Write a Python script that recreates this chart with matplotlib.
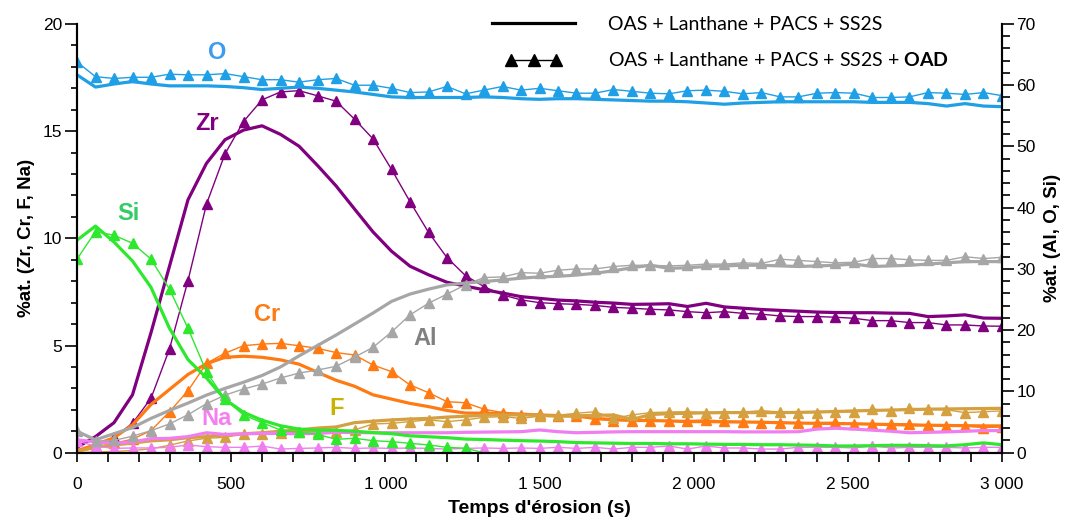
import numpy as np
import matplotlib.pyplot as plt
from matplotlib.lines import Line2D
from matplotlib.legend_handler import HandlerLine2D
from matplotlib.ticker import MultipleLocator, FuncFormatter

plt.rcParams['font.family'] = ['Liberation Sans', 'DejaVu Sans']
plt.rcParams['mathtext.fontset'] = 'custom'
plt.rcParams['mathtext.rm'] = 'Lato'
plt.rcParams['mathtext.bf'] = 'Lato:bold'

# temps d'érosion (s), un point toutes les 60 s
t = np.arange(0, 3001, 60)

# --- axe gauche : Zr, Cr, F, Na (%at.) ---
zr = [0.25, 0.75, 1.4, 2.7, 5.6, 8.7, 11.8, 13.5, 14.6, 15.05, 15.25, 14.85, 14.3, 13.4, 12.45,
      11.37, 10.3, 9.4, 8.7, 8.3, 7.95, 7.77, 7.6, 7.45, 7.28, 7.2, 7.12, 7.08, 7.02, 6.98,
      6.92, 6.93, 6.95, 6.82, 6.97, 6.8, 6.74, 6.68, 6.64, 6.6, 6.56, 6.54, 6.53, 6.53, 6.51,
      6.5, 6.35, 6.38, 6.43, 6.28, 6.27]
zr_oad = [0.1, 0.28, 0.72, 1.37, 2.54, 4.84, 8.03, 11.6, 13.94, 15.45, 16.46, 16.83, 16.89, 16.65,
          16.4, 15.56, 14.64, 13.22, 11.71, 10.28, 9.1, 8.26, 7.75, 7.36, 7.13, 7.0, 6.95, 6.92,
          6.87, 6.78, 6.74, 6.69, 6.66, 6.58, 6.53, 6.58, 6.5, 6.46, 6.38, 6.35, 6.35, 6.32, 6.27,
          6.16, 6.16, 6.07, 6.07, 5.96, 5.96, 5.91, 5.9]
cr = [0.09, 0.37, 0.7, 1.3, 2.25, 2.95, 3.65, 4.15, 4.45, 4.5, 4.45, 4.33, 4.13, 3.75, 3.38,
      3.1, 2.7, 2.5, 2.3, 2.15, 1.97, 1.85, 1.84, 1.84, 1.8, 1.76, 1.73, 1.71, 1.6, 1.55,
      1.5, 1.5, 1.48, 1.45, 1.45, 1.44, 1.43, 1.42, 1.4, 1.38, 1.37, 1.36, 1.35, 1.33, 1.31,
      1.29, 1.28, 1.27, 1.26, 1.25, 1.25]
cr_oad = [0.05, 0.2, 0.44, 0.63, 1.03, 1.91, 2.89, 4.17, 4.64, 4.99, 5.07, 5.1, 4.99, 4.87, 4.67,
          4.56, 4.09, 3.78, 3.16, 2.8, 2.38, 2.33, 2.03, 1.87, 1.76, 1.79, 1.73, 1.73, 1.56, 1.49,
          1.5, 1.49, 1.5, 1.5, 1.53, 1.47, 1.45, 1.4, 1.38, 1.38, 1.4, 1.42, 1.32, 1.34, 1.36,
          1.34, 1.29, 1.25, 1.25, 1.17, 1.2]
f = [0.05, 0.28, 0.36, 0.45, 0.55, 0.6, 0.7, 0.75, 0.83, 0.88, 0.93, 1.0, 1.06, 1.15, 1.2,
     1.4, 1.47, 1.53, 1.57, 1.6, 1.66, 1.7, 1.75, 1.76, 1.76, 1.74, 1.7, 1.72, 1.74, 1.76,
     1.55, 1.78, 1.82, 1.84, 1.86, 1.87, 1.87, 1.87, 1.87, 1.88, 1.9, 1.92, 1.95, 1.97, 1.99,
     2.01, 2.03, 2.04, 2.05, 2.06, 2.07]
f_oad = [0.0, 0.03, 0.06, 0.1, 0.18, 0.35, 0.55, 0.67, 0.72, 0.86, 0.86, 0.93, 0.98, 0.98, 0.98,
         1.06, 1.34, 1.37, 1.45, 1.53, 1.45, 1.53, 1.65, 1.68, 1.6, 1.7, 1.75, 1.84, 1.91, 1.6,
         1.76, 1.87, 1.9, 1.91, 1.87, 1.87, 1.9, 1.96, 1.9, 1.87, 1.87, 1.9, 1.9, 2.03, 1.96,
         2.07, 2.03, 2.0, 1.87, 1.91, 1.95]
na = [0.6, 0.5, 0.44, 0.5, 0.65, 0.67, 0.75, 0.93, 0.85, 0.88, 0.9, 0.9, 0.88, 0.9, 0.95,
      0.94, 0.93, 0.93, 0.93, 0.93, 0.93, 0.95, 0.96, 0.97, 0.98, 1.06, 0.98, 0.93, 0.95, 0.97,
      0.98, 0.98, 0.98, 0.98, 0.98, 0.98, 0.97, 0.97, 0.97, 0.98, 1.1, 1.14, 1.1, 1.05, 1.0,
      0.93, 0.95, 0.97, 1.0, 1.03, 1.03]
na_oad = [0.55, 0.3, 0.2, 0.22, 0.22, 0.25, 0.36, 0.28, 0.25, 0.25, 0.31, 0.17, 0.2, 0.22, 0.25,
          0.2, 0.22, 0.2, 0.22, 0.2, 0.17, 0.2, 0.22, 0.2, 0.22, 0.2, 0.25, 0.2, 0.25, 0.17,
          0.25, 0.25, 0.31, 0.17, 0.31, 0.22, 0.22, 0.17, 0.17, 0.25, 0.25, 0.25, 0.22, 0.31, 0.22,
          0.25, 0.25, 0.25, 0.22, 0.25, 0.25]

# --- axe droit : Al, O, Si (%at.) ---
al = [3.5, 2.1, 3.1, 4.1, 5.6, 6.9, 8.1, 9.4, 10.5, 11.5, 12.6, 14.0, 15.8, 17.5, 19.2,
      21.0, 22.8, 24.7, 25.9, 26.7, 27.4, 27.7, 27.95, 28.2, 28.5, 28.7, 28.8, 29.0, 29.3, 29.7,
      30.2, 30.6, 30.1, 30.2, 30.4, 30.5, 30.6, 30.6, 30.5, 30.4, 30.5, 30.6, 30.8, 30.4, 30.5,
      30.6, 30.8, 31.0, 31.2, 31.2, 31.2]
al_oad = [3.5, 1.9, 2.0, 2.7, 3.6, 4.7, 6.2, 8.0, 9.4, 10.4, 11.2, 12.2, 13.0, 13.5, 14.1,
          15.6, 17.2, 19.7, 22.5, 24.4, 25.9, 27.4, 28.6, 28.7, 29.4, 29.3, 29.8, 30.0, 30.0, 30.4,
          30.6, 30.6, 30.5, 30.6, 30.8, 30.8, 31.0, 30.9, 31.6, 31.4, 31.2, 31.0, 31.1, 31.7, 31.7,
          31.5, 31.4, 31.4, 32.0, 31.7, 31.9]
o = [61.7, 59.7, 60.2, 60.6, 60.2, 59.9, 59.9, 59.9, 59.8, 59.6, 59.3, 59.5, 59.7, 59.5, 59.2,
     58.9, 58.5, 58.1, 58.0, 58.0, 58.0, 58.0, 58.1, 58.0, 57.8, 57.7, 57.8, 57.8, 57.7, 57.6,
     57.5, 57.4, 57.4, 57.3, 57.1, 56.9, 57.1, 57.2, 57.3, 57.3, 57.3, 57.3, 57.3, 57.2, 57.2,
     57.2, 57.0, 56.6, 57.0, 56.6, 56.5]
o_oad = [63.8, 61.4, 61.1, 61.3, 61.3, 61.8, 61.7, 61.7, 61.9, 61.4, 60.9, 60.9, 60.5, 60.9, 61.1,
         60.0, 60.0, 59.5, 58.8, 58.9, 59.8, 58.6, 59.2, 59.8, 59.2, 59.5, 59.1, 58.7, 58.7, 59.3,
         59.0, 58.7, 58.6, 59.1, 59.2, 59.0, 58.6, 58.8, 58.1, 58.1, 58.7, 58.8, 58.7, 58.0, 58.0,
         58.1, 58.8, 58.7, 58.5, 58.8, 58.3]
si = [34.7, 37.0, 34.4, 31.3, 27.0, 20.3, 15.2, 12.2, 8.7, 6.6, 5.3, 4.4, 3.85, 3.7, 3.65,
      3.5, 3.28, 3.1, 2.75, 2.6, 2.45, 2.22, 2.15, 2.05, 1.96, 1.9, 1.8, 1.65, 1.6, 1.55,
      1.5, 1.5, 1.45, 1.45, 1.4, 1.35, 1.35, 1.3, 1.3, 1.25, 1.2, 1.1, 1.1, 1.15, 1.2,
      1.2, 1.15, 1.1, 1.3, 1.6, 1.3]
si_oad = [31.6, 36.1, 35.5, 34.2, 31.6, 26.7, 20.3, 13.2, 8.7, 6.16, 4.9, 3.7, 3.33, 3.0, 2.18,
          2.35, 1.96, 1.8, 1.53, 1.26, 0.88, 0.72, 0.0, 0.0, 0.0, 0.0, 0.0, 0.0, 0.0, 0.0,
          0.0, 0.0, 0.0, 0.0, 0.0, 0.0, 0.0, 0.0, 0.0, 0.0, 0.0, 0.0, 0.0, 0.0, 0.0,
          0.0, 0.0, 0.0, 0.0, 0.0, 0.0]

c_o, c_zr, c_si, c_cr = '#1e9fe6', '#800080', '#2ee82e', '#ff7a12'
c_al, c_na, c_f = '#a6a6a6', '#f07ef0', '#d4a040'

fig = plt.figure(figsize=(10.68, 5.17), dpi=100)
ax = fig.add_axes([0.0721, 0.1244, 0.8661, 0.8292])
ax2 = ax.twinx()

lw_s, lw_m, ms = 2.3, 1.0, 7

for vals, vals_oad, c in [(zr, zr_oad, c_zr), (cr, cr_oad, c_cr), (f, f_oad, c_f), (na, na_oad, c_na)]:
    ax.plot(t, vals, color=c, lw=lw_s)
    ax.plot(t, vals_oad, color=c, lw=lw_m, marker='^', ms=ms)

for vals, vals_oad, c in [(al, al_oad, c_al), (o, o_oad, c_o)]:
    ax2.plot(t, vals, color=c, lw=lw_s)
    ax2.plot(t, vals_oad, color=c, lw=lw_m, marker='^', ms=ms)
ax2.plot(t, si, color=c_si, lw=lw_s)
ax2.plot(t, si_oad, color=c_si, lw=lw_m, marker='^', ms=ms, markevery=slice(0, 22))

ax.set_xlim(0, 3000)
ax.set_ylim(0, 20)
ax2.set_ylim(0, 70)

for a in (ax, ax2):
    a.spines['top'].set_visible(False)
    for s in a.spines.values():
        s.set_linewidth(1.5)

ax.xaxis.set_major_locator(MultipleLocator(500))
ax.xaxis.set_minor_locator(MultipleLocator(100))
ax.xaxis.set_major_formatter(FuncFormatter(lambda v, p: f"{int(v):,}".replace(',', ' ')))
ax.yaxis.set_major_locator(MultipleLocator(5))
ax.yaxis.set_minor_locator(MultipleLocator(1))
ax2.yaxis.set_major_locator(MultipleLocator(10))
ax2.yaxis.set_minor_locator(MultipleLocator(2))

ax.tick_params(axis='x', which='both', length=6.5, width=1.2, labelsize=12.5, pad=11)
ax.tick_params(axis='y', which='major', length=8.5, width=1.2, labelsize=12.5, pad=2)
ax.tick_params(axis='y', which='minor', length=4.5, width=1.2)
ax2.tick_params(axis='y', which='major', length=8.5, width=1.2, labelsize=12.5, pad=2)
ax2.tick_params(axis='y', which='minor', length=5.5, width=1.2)

ax.set_xlabel("Temps d'érosion (s)", fontsize=14, fontweight='bold', labelpad=6)
ax.set_ylabel("%at. (Zr, Cr, F, Na)", fontsize=13.5, fontweight='bold', labelpad=6)
ax2.set_ylabel("%at. (Al, O, Si)", fontsize=13.5, fontweight='bold', labelpad=6)

# étiquettes des éléments
labels = [('O', 454, 18.65, '#3d9cf0'), ('Zr', 421, 15.37, c_zr), ('Si', 167, 11.17, '#33cc66'),
          ('Cr', 615, 6.43, c_cr), ('Al', 1129, 5.34, '#808080'), ('Na', 453, 1.6, '#f57ff0'),
          ('F', 842, 2.07, '#c8b400')]
for txt, x, y, c in labels:
    ax.text(x, y, txt, color=c, fontsize=17, fontweight='bold', ha='center', va='center')

handles = [Line2D([], [], color='black', lw=2.3),
           Line2D([], [], color='black', lw=1.0, marker='^', ms=8)]
names = ['OAS + Lanthane + PACS + SS2S', 'OAS + Lanthane + PACS + SS2S + $\\mathbf{OAD}$']
fig.legend(handles, names, loc='upper left', bbox_to_anchor=(486 / 1068, 1 - 16 / 517),
           frameon=False, prop={'family': 'Lato', 'size': 14}, numpoints=3,
           handler_map={handles[1]: HandlerLine2D(marker_pad=1.3)},
           handlelength=4.9, handletextpad=1.4, labelspacing=0.95, borderpad=0, borderaxespad=0)

fig.savefig('out.png', dpi=100)
